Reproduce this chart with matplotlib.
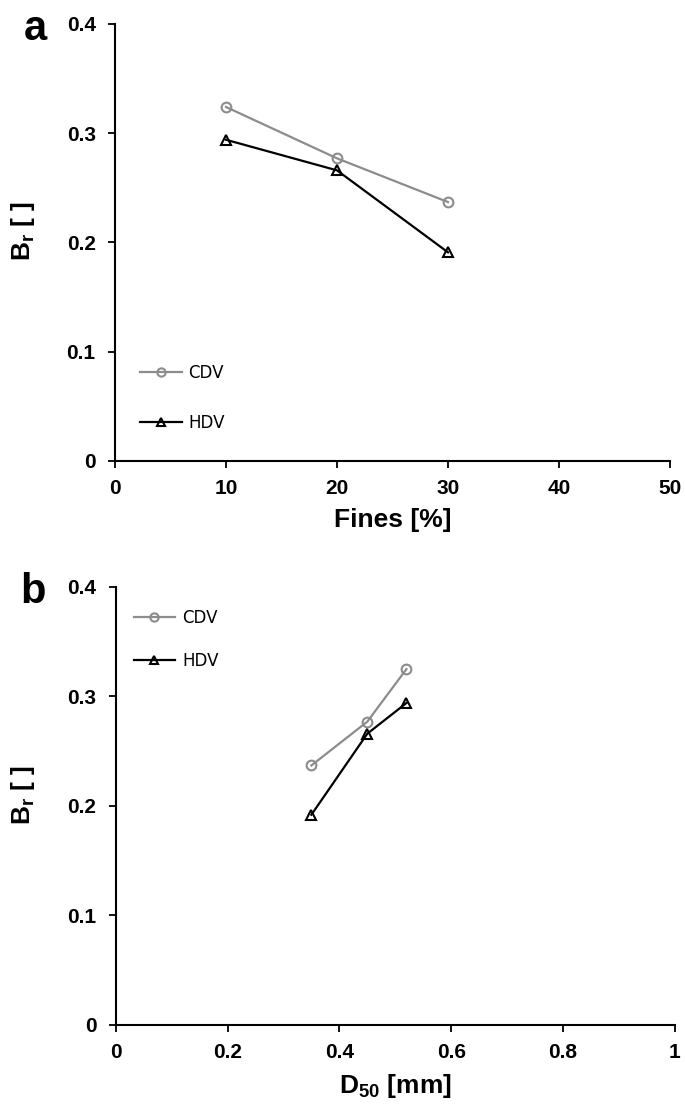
import numpy as np
import matplotlib.pyplot as plt

plt.rcParams['font.family'] = ['Liberation Sans', 'DejaVu Sans']
plt.rcParams['mathtext.fontset'] = 'custom'
plt.rcParams['mathtext.rm'] = 'Liberation Sans'
plt.rcParams['mathtext.bf'] = 'Liberation Sans:bold'

fines = [10, 20, 30]
cdv_fines = [0.324, 0.277, 0.237]
hdv_fines = [0.294, 0.266, 0.191]

d50 = [0.35, 0.45, 0.52]
cdv_d50 = [0.237, 0.277, 0.325]
hdv_d50 = [0.192, 0.266, 0.294]

fig = plt.figure(figsize=(6.85, 11.1), dpi=100)
ax1 = fig.add_axes([0.168, 0.5847, 0.810, 0.3937])
ax2 = fig.add_axes([0.169, 0.0766, 0.816, 0.3946])

grey = '#8c8c8c'


def style(ax):
    for s in ['top', 'right']:
        ax.spines[s].set_visible(False)
    for s in ['left', 'bottom']:
        ax.spines[s].set_linewidth(1.5)
    ax.tick_params(direction='out', length=5, width=1.3, labelsize=15)
    ax.tick_params(axis='y', pad=9)
    ax.tick_params(axis='x', pad=8)
    ax.set_ylim(0, 0.4)
    ax.set_yticks([0, 0.1, 0.2, 0.3, 0.4])
    ax.set_yticklabels(['0', '0.1', '0.2', '0.3', '0.4'], fontweight='bold')
    ax.set_ylabel(r'$\mathbf{B_r}$' + ' [ ]', fontsize=19, fontweight='bold')
    ax.yaxis.set_label_coords(-0.141, 0.525)


ax1.plot(fines, cdv_fines, '-o', color=grey, mfc='none', mec=grey, mew=1.5, ms=7, lw=1.6, label='CDV')
ax1.plot(fines, hdv_fines, '-^', color='black', mfc='none', mec='black', mew=1.5, ms=6.5, lw=1.6, label='HDV')
ax1.set_xlim(0, 50)
ax1.set_xticks([0, 10, 20, 30, 40, 50])
ax1.set_xticklabels(['0', '10', '20', '30', '40', '50'], fontweight='bold')
style(ax1)
ax1.set_xlabel('Fines [%]', fontsize=19, fontweight='bold')
ax1.xaxis.set_label_coords(0.5, -0.107)
ax1.legend(loc='center left', bbox_to_anchor=(0.045, 0.144), frameon=False,
           borderpad=0, borderaxespad=0, markerscale=0.85,
           handlelength=2.5, handletextpad=0.4, labelspacing=1.9,
           prop={'family': 'DejaVu Sans', 'size': 12})

ax2.plot(d50, cdv_d50, '-o', color=grey, mfc='none', mec=grey, mew=1.5, ms=7, lw=1.6, label='CDV')
ax2.plot(d50, hdv_d50, '-^', color='black', mfc='none', mec='black', mew=1.5, ms=6.5, lw=1.6, label='HDV')
ax2.set_xlim(0, 1)
ax2.set_xticks([0, 0.2, 0.4, 0.6, 0.8, 1.0])
ax2.set_xticklabels(['0', '0.2', '0.4', '0.6', '0.8', '1'], fontweight='bold')
style(ax2)
ax2.set_xlabel(r'$\mathbf{D_{50}}$' + ' [mm]', fontsize=19, fontweight='bold')
ax2.xaxis.set_label_coords(0.5, -0.107)
ax2.legend(loc='center left', bbox_to_anchor=(0.032, 0.88), frameon=False,
           borderpad=0, borderaxespad=0, markerscale=0.85,
           handlelength=2.5, handletextpad=0.4, labelspacing=1.5,
           prop={'family': 'DejaVu Sans', 'size': 12})

fig.text(0.034, 0.964, 'a', fontsize=30, fontweight='bold', va='baseline')
fig.text(0.029, 0.4568, 'b', fontsize=30, fontweight='bold', va='baseline')

fig.savefig('out.png', dpi=100)
